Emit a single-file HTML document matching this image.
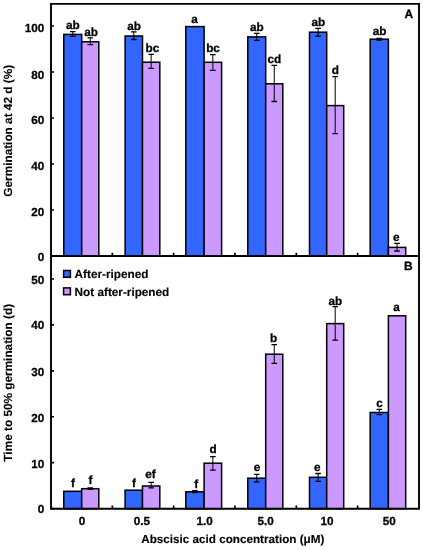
<!DOCTYPE html>
<html><head><meta charset="utf-8"><style>
html,body{margin:0;padding:0;background:#fff;}
svg{display:block;}
text{text-rendering:geometricPrecision;}
</style></head><body>
<svg width="423" height="550" viewBox="0 0 423 550">
<rect width="423" height="550" fill="#fff"/>
<rect x="63.80" y="34.40" width="17.90" height="221.60" fill="#3366FF" stroke="#000" stroke-width="1.5"/>
<rect x="81.70" y="41.80" width="17.10" height="214.20" fill="#CC99FF" stroke="#000" stroke-width="1.5"/>
<rect x="125.10" y="36.00" width="17.40" height="220.00" fill="#3366FF" stroke="#000" stroke-width="1.5"/>
<rect x="142.50" y="62.20" width="17.30" height="193.80" fill="#CC99FF" stroke="#000" stroke-width="1.5"/>
<rect x="185.80" y="26.60" width="18.30" height="229.40" fill="#3366FF" stroke="#000" stroke-width="1.5"/>
<rect x="204.10" y="62.30" width="17.50" height="193.70" fill="#CC99FF" stroke="#000" stroke-width="1.5"/>
<rect x="247.80" y="36.90" width="17.90" height="219.10" fill="#3366FF" stroke="#000" stroke-width="1.5"/>
<rect x="265.70" y="83.80" width="17.10" height="172.20" fill="#CC99FF" stroke="#000" stroke-width="1.5"/>
<rect x="309.50" y="32.20" width="17.20" height="223.80" fill="#3366FF" stroke="#000" stroke-width="1.5"/>
<rect x="326.70" y="105.60" width="17.00" height="150.40" fill="#CC99FF" stroke="#000" stroke-width="1.5"/>
<rect x="370.20" y="39.20" width="18.20" height="216.80" fill="#3366FF" stroke="#000" stroke-width="1.5"/>
<rect x="388.40" y="247.40" width="17.30" height="8.60" fill="#CC99FF" stroke="#000" stroke-width="1.5"/>
<path d="M72.75 31.60V36.30" stroke="#000" stroke-width="1" fill="none"/>
<path d="M69.95 31.60H75.55M69.95 36.30H75.55" stroke="#000" stroke-width="1.3" fill="none"/>
<path d="M90.25 37.90V44.60" stroke="#000" stroke-width="1" fill="none"/>
<path d="M87.45 37.90H93.05M87.45 44.60H93.05" stroke="#000" stroke-width="1.3" fill="none"/>
<path d="M133.80 31.80V39.50" stroke="#000" stroke-width="1" fill="none"/>
<path d="M131.00 31.80H136.60M131.00 39.50H136.60" stroke="#000" stroke-width="1.3" fill="none"/>
<path d="M151.15 54.40V68.40" stroke="#000" stroke-width="1" fill="none"/>
<path d="M148.35 54.40H153.95M148.35 68.40H153.95" stroke="#000" stroke-width="1.3" fill="none"/>
<path d="M212.85 54.70V70.30" stroke="#000" stroke-width="1" fill="none"/>
<path d="M210.05 54.70H215.65M210.05 70.30H215.65" stroke="#000" stroke-width="1.3" fill="none"/>
<path d="M256.75 33.30V40.40" stroke="#000" stroke-width="1" fill="none"/>
<path d="M253.95 33.30H259.55M253.95 40.40H259.55" stroke="#000" stroke-width="1.3" fill="none"/>
<path d="M274.25 65.30V101.50" stroke="#000" stroke-width="1" fill="none"/>
<path d="M271.45 65.30H277.05M271.45 101.50H277.05" stroke="#000" stroke-width="1.3" fill="none"/>
<path d="M318.10 28.30V36.20" stroke="#000" stroke-width="1" fill="none"/>
<path d="M315.30 28.30H320.90M315.30 36.20H320.90" stroke="#000" stroke-width="1.3" fill="none"/>
<path d="M335.20 76.70V133.70" stroke="#000" stroke-width="1" fill="none"/>
<path d="M332.40 76.70H338.00M332.40 133.70H338.00" stroke="#000" stroke-width="1.3" fill="none"/>
<path d="M379.30 38.30V40.00" stroke="#000" stroke-width="1" fill="none"/>
<path d="M376.50 38.30H382.10M376.50 40.00H382.10" stroke="#000" stroke-width="1.3" fill="none"/>
<path d="M397.05 243.40V251.00" stroke="#000" stroke-width="1" fill="none"/>
<path d="M394.25 243.40H399.85M394.25 251.00H399.85" stroke="#000" stroke-width="1.3" fill="none"/>
<rect x="63.80" y="491.30" width="17.90" height="17.40" fill="#3366FF" stroke="#000" stroke-width="1.5"/>
<rect x="81.70" y="488.70" width="17.10" height="20.00" fill="#CC99FF" stroke="#000" stroke-width="1.5"/>
<rect x="125.10" y="490.20" width="17.40" height="18.50" fill="#3366FF" stroke="#000" stroke-width="1.5"/>
<rect x="142.50" y="486.00" width="17.30" height="22.70" fill="#CC99FF" stroke="#000" stroke-width="1.5"/>
<rect x="185.80" y="491.80" width="18.30" height="16.90" fill="#3366FF" stroke="#000" stroke-width="1.5"/>
<rect x="204.10" y="463.20" width="17.50" height="45.50" fill="#CC99FF" stroke="#000" stroke-width="1.5"/>
<rect x="247.80" y="478.20" width="17.90" height="30.50" fill="#3366FF" stroke="#000" stroke-width="1.5"/>
<rect x="265.70" y="354.20" width="17.10" height="154.50" fill="#CC99FF" stroke="#000" stroke-width="1.5"/>
<rect x="309.50" y="477.30" width="17.20" height="31.40" fill="#3366FF" stroke="#000" stroke-width="1.5"/>
<rect x="326.70" y="323.60" width="17.00" height="185.10" fill="#CC99FF" stroke="#000" stroke-width="1.5"/>
<rect x="370.20" y="412.50" width="18.20" height="96.20" fill="#3366FF" stroke="#000" stroke-width="1.5"/>
<rect x="388.40" y="315.80" width="17.30" height="192.90" fill="#CC99FF" stroke="#000" stroke-width="1.5"/>
<path d="M90.25 488.00V489.40" stroke="#000" stroke-width="1" fill="none"/>
<path d="M87.45 488.00H93.05M87.45 489.40H93.05" stroke="#000" stroke-width="1.3" fill="none"/>
<path d="M151.15 482.40V487.90" stroke="#000" stroke-width="1" fill="none"/>
<path d="M148.35 482.40H153.95M148.35 487.90H153.95" stroke="#000" stroke-width="1.3" fill="none"/>
<path d="M194.95 490.70V492.50" stroke="#000" stroke-width="1" fill="none"/>
<path d="M192.15 490.70H197.75M192.15 492.50H197.75" stroke="#000" stroke-width="1.3" fill="none"/>
<path d="M212.85 456.60V470.20" stroke="#000" stroke-width="1" fill="none"/>
<path d="M210.05 456.60H215.65M210.05 470.20H215.65" stroke="#000" stroke-width="1.3" fill="none"/>
<path d="M256.75 474.40V481.80" stroke="#000" stroke-width="1" fill="none"/>
<path d="M253.95 474.40H259.55M253.95 481.80H259.55" stroke="#000" stroke-width="1.3" fill="none"/>
<path d="M274.25 344.70V363.30" stroke="#000" stroke-width="1" fill="none"/>
<path d="M271.45 344.70H277.05M271.45 363.30H277.05" stroke="#000" stroke-width="1.3" fill="none"/>
<path d="M318.10 473.50V481.40" stroke="#000" stroke-width="1" fill="none"/>
<path d="M315.30 473.50H320.90M315.30 481.40H320.90" stroke="#000" stroke-width="1.3" fill="none"/>
<path d="M335.20 306.70V340.20" stroke="#000" stroke-width="1" fill="none"/>
<path d="M332.40 306.70H338.00M332.40 340.20H338.00" stroke="#000" stroke-width="1.3" fill="none"/>
<path d="M379.30 409.40V414.60" stroke="#000" stroke-width="1" fill="none"/>
<path d="M376.50 409.40H382.10M376.50 414.60H382.10" stroke="#000" stroke-width="1.3" fill="none"/>
<path d="M51.0 3.9H419.0V508.7H51.0Z M51.0 256.0H419.0" stroke="#000" stroke-width="1.9" fill="none"/>
<path d="M51.0 256.00H54.0 M51.0 210.00H54.0 M51.0 164.00H54.0 M51.0 118.00H54.0 M51.0 72.00H54.0 M51.0 26.00H54.0 M51.0 508.60H54.0 M51.0 462.68H54.0 M51.0 416.76H54.0 M51.0 370.84H54.0 M51.0 324.92H54.0 M51.0 279.00H54.0 M112.33 256.0V252.8 M112.33 508.7V505.5 M173.66 256.0V252.8 M173.66 508.7V505.5 M234.99 256.0V252.8 M234.99 508.7V505.5 M296.32 256.0V252.8 M296.32 508.7V505.5 M357.65 256.0V252.8 M357.65 508.7V505.5" stroke="#000" stroke-width="1.7" fill="none"/>
<rect x="63.6" y="270.5" width="6.8" height="6.8" fill="#3366FF" stroke="#000" stroke-width="1.5"/>
<rect x="63.6" y="287.9" width="6.8" height="6.8" fill="#CC99FF" stroke="#000" stroke-width="1.5"/>
<g opacity="0.999" stroke="#000" stroke-width="0.3">
<text x="72.95" y="28.70" text-anchor="middle" font-size="11.75" font-family="Liberation Sans, sans-serif" font-weight="bold">ab</text>
<text x="91.15" y="35.70" text-anchor="middle" font-size="11.75" font-family="Liberation Sans, sans-serif" font-weight="bold">ab</text>
<text x="134.00" y="29.90" text-anchor="middle" font-size="11.75" font-family="Liberation Sans, sans-serif" font-weight="bold">ab</text>
<text x="152.35" y="51.90" text-anchor="middle" font-size="11.75" font-family="Liberation Sans, sans-serif" font-weight="bold">bc</text>
<text x="194.55" y="23.00" text-anchor="middle" font-size="11.75" font-family="Liberation Sans, sans-serif" font-weight="bold">a</text>
<text x="213.05" y="51.80" text-anchor="middle" font-size="11.75" font-family="Liberation Sans, sans-serif" font-weight="bold">bc</text>
<text x="256.95" y="31.40" text-anchor="middle" font-size="11.75" font-family="Liberation Sans, sans-serif" font-weight="bold">ab</text>
<text x="274.45" y="63.00" text-anchor="middle" font-size="11.75" font-family="Liberation Sans, sans-serif" font-weight="bold">cd</text>
<text x="318.30" y="25.80" text-anchor="middle" font-size="11.75" font-family="Liberation Sans, sans-serif" font-weight="bold">ab</text>
<text x="335.40" y="74.10" text-anchor="middle" font-size="11.75" font-family="Liberation Sans, sans-serif" font-weight="bold">d</text>
<text x="379.50" y="35.40" text-anchor="middle" font-size="11.75" font-family="Liberation Sans, sans-serif" font-weight="bold">ab</text>
<text x="396.25" y="240.50" text-anchor="middle" font-size="11.75" font-family="Liberation Sans, sans-serif" font-weight="bold">e</text>
<text x="72.95" y="486.90" text-anchor="middle" font-size="11.75" font-family="Liberation Sans, sans-serif" font-weight="bold">f</text>
<text x="90.45" y="484.20" text-anchor="middle" font-size="11.75" font-family="Liberation Sans, sans-serif" font-weight="bold">f</text>
<text x="134.00" y="486.60" text-anchor="middle" font-size="11.75" font-family="Liberation Sans, sans-serif" font-weight="bold">f</text>
<text x="150.45" y="478.00" text-anchor="middle" font-size="11.75" font-family="Liberation Sans, sans-serif" font-weight="bold">ef</text>
<text x="196.15" y="488.10" text-anchor="middle" font-size="11.75" font-family="Liberation Sans, sans-serif" font-weight="bold">f</text>
<text x="213.05" y="453.30" text-anchor="middle" font-size="11.75" font-family="Liberation Sans, sans-serif" font-weight="bold">d</text>
<text x="256.95" y="471.40" text-anchor="middle" font-size="11.75" font-family="Liberation Sans, sans-serif" font-weight="bold">e</text>
<text x="273.65" y="342.10" text-anchor="middle" font-size="11.75" font-family="Liberation Sans, sans-serif" font-weight="bold">b</text>
<text x="317.30" y="470.90" text-anchor="middle" font-size="11.75" font-family="Liberation Sans, sans-serif" font-weight="bold">e</text>
<text x="335.40" y="305.10" text-anchor="middle" font-size="11.75" font-family="Liberation Sans, sans-serif" font-weight="bold">ab</text>
<text x="379.50" y="406.80" text-anchor="middle" font-size="11.75" font-family="Liberation Sans, sans-serif" font-weight="bold">c</text>
<text x="396.55" y="311.40" text-anchor="middle" font-size="11.75" font-family="Liberation Sans, sans-serif" font-weight="bold">a</text>
<text x="44.3" y="260.70" text-anchor="end" font-size="11.7" font-family="Liberation Sans, sans-serif" font-weight="bold">0</text>
<text x="44.3" y="216.10" text-anchor="end" font-size="11.7" font-family="Liberation Sans, sans-serif" font-weight="bold">20</text>
<text x="44.3" y="169.60" text-anchor="end" font-size="11.7" font-family="Liberation Sans, sans-serif" font-weight="bold">40</text>
<text x="44.3" y="124.00" text-anchor="end" font-size="11.7" font-family="Liberation Sans, sans-serif" font-weight="bold">60</text>
<text x="44.3" y="78.50" text-anchor="end" font-size="11.7" font-family="Liberation Sans, sans-serif" font-weight="bold">80</text>
<text x="44.3" y="32.30" text-anchor="end" font-size="11.7" font-family="Liberation Sans, sans-serif" font-weight="bold">100</text>
<text x="44.3" y="513.40" text-anchor="end" font-size="11.7" font-family="Liberation Sans, sans-serif" font-weight="bold">0</text>
<text x="44.3" y="468.28" text-anchor="end" font-size="11.7" font-family="Liberation Sans, sans-serif" font-weight="bold">10</text>
<text x="44.3" y="422.16" text-anchor="end" font-size="11.7" font-family="Liberation Sans, sans-serif" font-weight="bold">20</text>
<text x="44.3" y="376.44" text-anchor="end" font-size="11.7" font-family="Liberation Sans, sans-serif" font-weight="bold">30</text>
<text x="44.3" y="329.42" text-anchor="end" font-size="11.7" font-family="Liberation Sans, sans-serif" font-weight="bold">40</text>
<text x="44.3" y="284.40" text-anchor="end" font-size="11.7" font-family="Liberation Sans, sans-serif" font-weight="bold">50</text>
<text x="82.10" y="525.0" text-anchor="middle" font-size="11.7" font-family="Liberation Sans, sans-serif" font-weight="bold">0</text>
<text x="141.80" y="525.0" text-anchor="middle" font-size="11.7" font-family="Liberation Sans, sans-serif" font-weight="bold">0.5</text>
<text x="204.70" y="525.0" text-anchor="middle" font-size="11.7" font-family="Liberation Sans, sans-serif" font-weight="bold">1.0</text>
<text x="265.60" y="525.0" text-anchor="middle" font-size="11.7" font-family="Liberation Sans, sans-serif" font-weight="bold">5.0</text>
<text x="327.10" y="525.0" text-anchor="middle" font-size="11.7" font-family="Liberation Sans, sans-serif" font-weight="bold">10</text>
<text x="389.30" y="525.0" text-anchor="middle" font-size="11.7" font-family="Liberation Sans, sans-serif" font-weight="bold">50</text>
<text x="232.8" y="543.0" text-anchor="middle" font-size="11.7" stroke-width="0.15" font-family="Liberation Sans, sans-serif" font-weight="bold">Abscisic acid concentration (μM)</text>
<text transform="translate(12.3 130.8) rotate(-90)" text-anchor="middle" font-size="11.8" stroke-width="0.1" font-family="Liberation Sans, sans-serif" font-weight="bold">Germination at 42 d (%)</text>
<text transform="translate(12.2 382.75) rotate(-90)" text-anchor="middle" font-size="11.8" stroke-width="0.1" font-family="Liberation Sans, sans-serif" font-weight="bold">Time to 50% germination (d)</text>
<text x="404.4" y="17.8" font-size="12" font-family="Liberation Sans, sans-serif" font-weight="bold">A</text>
<text x="404.0" y="269.8" font-size="12" font-family="Liberation Sans, sans-serif" font-weight="bold">B</text>
<text x="74.6" y="277.8" font-size="11.75" stroke-width="0.15" font-family="Liberation Sans, sans-serif" font-weight="bold">After-ripened</text>
<text x="74.6" y="296.0" font-size="11.75" stroke-width="0.15" font-family="Liberation Sans, sans-serif" font-weight="bold">Not after-ripened</text>
</g>
</svg>
</body></html>
